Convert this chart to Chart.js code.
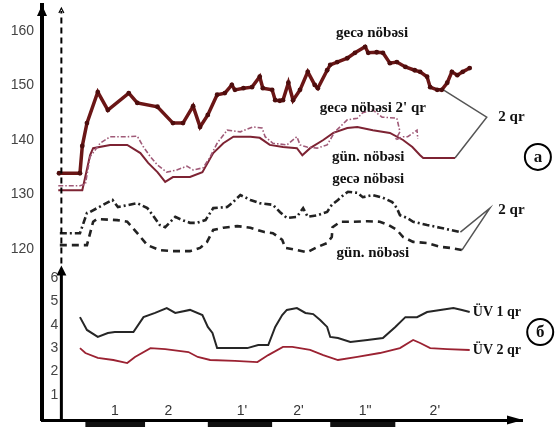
<!DOCTYPE html>
<html>
<head>
<meta charset="utf-8">
<script src="https://cdn.jsdelivr.net/npm/chart.js@4.4.1/dist/chart.umd.min.js"></script>
<style>
  html, body { margin: 0; padding: 0; background: #fff; }
  #wrap { width: 555px; height: 430px; position: relative; }
</style>
</head>
<body>
<div id="wrap"><canvas id="shiftChart"></canvas></div>
<script>
// time axis in hours from the start of the record, one shift = 8 h

// gecə nöbəsi, 2 qr (upper group, dark red with dots)
const nightTopHours = [-0.4, 2.3, 2.6, 3.2, 4.6, 5.9, 8.6, 9.7, 12.3, 14.3, 15.6, 16.9, 17.8, 18.8, 20.0, 21.0, 21.9, 22.3, 23.4, 24.5, 25.5, 25.9, 27.1, 27.5, 28.1, 28.5, 29.2, 29.8, 30.7, 31.7, 32.6, 33.0, 34.2, 34.6, 35.5, 36.8, 37.8, 39.1, 39.5, 40.6, 41.4, 42.3, 43.2, 44.3, 45.5, 46.2, 47.1, 47.5, 48.4, 49.0, 49.7, 50.3, 51.0, 51.7, 52.6];
const nightTopValues = [133.9, 133.9, 138.9, 143.1, 148.8, 145.5, 148.6, 146.8, 146.1, 143.1, 143.1, 146.2, 142.4, 144.6, 148.3, 148.6, 150.1, 149.2, 149.5, 149.7, 151.6, 149.5, 149.2, 147.3, 147.2, 147.3, 150.5, 147.3, 149.2, 152.5, 150.1, 149.5, 152.8, 153.8, 154.3, 155.0, 156.0, 157.1, 156.0, 156.1, 156.0, 154.1, 154.3, 153.4, 152.8, 152.5, 151.6, 149.7, 149.2, 149.2, 150.5, 152.5, 151.9, 152.5, 153.2];

// gün. nöbəsi, 2 qr (upper group, red solid)
const dayTopHours = [-0.5, 2.6, 3.6, 4.0, 6.2, 8.4, 10.1, 11.1, 12.3, 13.3, 14.3, 16.5, 18.1, 19.5, 20.8, 22.1, 24.3, 25.5, 26.8, 28.5, 30.3, 31.0, 32.0, 33.7, 35.0, 36.8, 38.1, 40.1, 42.3, 44.0, 45.2, 46.2, 46.6, 50.7];
const dayTopValues = [130.8, 130.8, 137.2, 138.5, 139.1, 139.1, 137.6, 135.8, 134.1, 132.3, 133.2, 133.2, 134.1, 137.6, 139.4, 140.6, 140.6, 140.4, 139.1, 138.7, 138.5, 137.2, 138.5, 140.0, 141.3, 142.2, 142.4, 141.8, 141.3, 140.0, 138.7, 137.2, 136.7, 136.7];

// gecə nöbəsi 2' qr (pink dash-dot)
const night2Hours = [-0.5, 2.3, 3.0, 3.6, 4.9, 6.2, 8.4, 9.7, 10.5, 11.4, 12.3, 13.5, 14.8, 16.1, 16.9, 18.2, 19.1, 20.0, 21.3, 23.0, 24.6, 25.8, 26.2, 27.2, 29.0, 30.3, 30.7, 31.6, 32.9, 34.2, 35.2, 36.8, 38.1, 38.8, 40.1, 41.3, 43.2, 43.6, 43.0, 44.0, 44.6, 45.8, 45.9];
const night2Values = [131.6, 131.6, 131.9, 136.9, 139.4, 140.6, 140.6, 140.7, 138.7, 136.9, 135.4, 134.1, 134.5, 135.2, 134.5, 134.9, 136.9, 139.4, 141.8, 141.5, 142.4, 142.2, 140.6, 139.4, 139.1, 140.6, 139.1, 138.7, 138.5, 139.1, 141.5, 143.7, 144.0, 145.0, 145.5, 144.2, 144.0, 141.5, 140.0, 140.6, 140.6, 141.8, 140.2];

// gecə nöbəsi, lower group (black dash-dot)
const nightLowHours = [-0.3, 2.3, 3.2, 3.6, 5.3, 6.5, 7.2, 9.7, 11.0, 11.7, 12.6, 13.3, 14.6, 15.5, 16.5, 17.4, 18.5, 19.5, 21.3, 21.9, 23.0, 24.3, 25.5, 27.2, 28.1, 29.0, 30.3, 31.1, 31.7, 33.0, 34.2, 34.8, 35.6, 36.3, 36.9, 38.1, 38.8, 40.1, 41.4, 42.6, 43.2, 43.6, 44.5, 45.3, 47.1, 48.8, 50.1, 51.4];
const nightLowValues = [122.9, 122.9, 126.6, 126.8, 128.1, 129.0, 127.7, 128.4, 127.5, 126.2, 124.4, 124.0, 125.9, 125.3, 124.8, 124.8, 125.3, 127.5, 127.7, 128.4, 129.9, 129.0, 128.4, 128.1, 126.8, 125.7, 125.9, 127.5, 125.9, 126.2, 126.8, 128.1, 129.0, 129.9, 130.5, 130.3, 129.5, 129.9, 129.4, 128.6, 127.5, 126.2, 125.7, 125.0, 124.4, 123.9, 123.5, 123.1];

// gün. nöbəsi, lower group (black dashed)
const dayLowHours = [-0.3, 3.2, 4.0, 4.5, 7.1, 8.4, 9.7, 11.0, 12.6, 14.3, 16.5, 17.8, 18.7, 19.5, 20.8, 22.6, 24.3, 26.1, 27.2, 28.4, 28.8, 30.3, 31.6, 33.0, 34.2, 34.8, 34.9, 35.9, 37.5, 39.4, 41.0, 42.1, 43.2, 44.0, 45.3, 47.1, 48.8, 50.1, 51.6];
const dayLowValues = [120.7, 120.7, 125.0, 125.5, 125.3, 125.0, 122.9, 120.7, 119.8, 119.6, 119.6, 120.2, 121.3, 123.5, 123.9, 124.2, 123.9, 123.1, 122.9, 121.7, 120.2, 119.8, 119.4, 120.4, 121.1, 122.2, 124.0, 125.0, 125.0, 125.1, 125.0, 124.4, 123.5, 122.2, 121.3, 121.1, 120.4, 120.2, 119.8];

// ÜV 1 qr / ÜV 2 qr (lower panel)
const uv1Hours = [2.3, 3.2, 4.6, 5.9, 6.8, 9.2, 10.5, 12.0, 13.5, 14.6, 16.5, 18.1, 18.8, 19.4, 20.0, 21.9, 23.9, 25.3, 26.6, 27.5, 28.4, 29.0, 30.3, 31.4, 32.4, 33.3, 34.2, 34.6, 35.6, 37.2, 39.4, 41.4, 43.0, 44.3, 45.8, 47.1, 48.8, 50.5, 51.6, 52.6];
const uv1Values = [4.33, 3.78, 3.48, 3.65, 3.69, 3.69, 4.33, 4.51, 4.72, 4.51, 4.64, 4.42, 3.91, 3.65, 3.00, 3.00, 3.00, 3.13, 3.13, 3.91, 4.42, 4.64, 4.72, 4.51, 4.46, 4.21, 3.91, 3.48, 3.43, 3.26, 3.35, 3.43, 3.91, 4.33, 4.33, 4.55, 4.64, 4.72, 4.64, 4.55];
const uv2Hours = [2.3, 3.0, 4.6, 6.6, 8.4, 9.4, 11.4, 13.3, 16.3, 17.5, 19.1, 22.3, 25.2, 26.6, 28.5, 29.7, 32.0, 33.7, 35.6, 38.1, 41.0, 43.6, 45.3, 46.2, 47.5, 49.7, 52.6];
const uv2Values = [3.00, 2.79, 2.58, 2.49, 2.36, 2.62, 3.00, 2.96, 2.83, 2.62, 2.49, 2.45, 2.40, 2.70, 3.05, 3.05, 2.92, 2.70, 2.49, 2.62, 2.79, 3.00, 3.35, 3.22, 3.00, 2.96, 2.92];

// "2 qr" brackets joining the line ends
const bracketTopHours = [49.2, 54.8, 50.7];
const bracketTopValues = [149.2, 144.2, 136.7];
const bracketLowHours = [51.4, 55.2, 51.6];
const bracketLowValues = [123.1, 127.5, 119.8];

// shifts along the time axis
const shiftLabels = ['1', '2', "1'", "2'", '1"', "2'"];
const shiftLabelHours = [6.8, 13.7, 23.2, 30.5, 39.1, 48.1];
const darkShiftStart = [3.0, 18.8, 34.6];
const darkShiftEnd = [10.7, 27.1, 43.0];

const topTicks = [120, 130, 140, 150, 160];
const bottomTicks = [1, 2, 3, 4, 5, 6];

// captions, anchored in data units
const notes = [
  { text: 'gecə nöbəsi', x: 40.0, y: 159.6, axis: 'yTop', align: 'center' },
  { text: "gecə nöbəsi 2' qr", x: 40.1, y: 145.9, axis: 'yTop', align: 'center' },
  { text: 'gün. nöbəsi', x: 39.5, y: 136.9, axis: 'yTop', align: 'center' },
  { text: 'gecə nöbəsi', x: 39.5, y: 132.8, axis: 'yTop', align: 'center' },
  { text: 'gün. nöbəsi', x: 40.1, y: 119.3, axis: 'yTop', align: 'center' },
  { text: '2 qr', x: 56.3, y: 144.2, axis: 'yTop', align: 'left' },
  { text: '2 qr', x: 56.3, y: 127.2, axis: 'yTop', align: 'left' },
  { text: 'ÜV 1 qr', x: 53.0, y: 4.55, axis: 'yBot', align: 'left' },
  { text: 'ÜV 2 qr', x: 53.0, y: 2.92, axis: 'yBot', align: 'left' }
];
const panelMarks = [
  { text: 'a', x: 61.4, y: 136.9, axis: 'yTop' },
  { text: 'б', x: 61.7, y: 3.69, axis: 'yBot' }
];

const tickFont = '"Liberation Sans", Arial, sans-serif';

function zip(xs, ys) {
  return xs.map((x, i) => ({ x: x, y: ys[i] }));
}

// keep the axes from reserving room for half-labels at their ends
function noEndPadding(s) {
  s.paddingTop = 0;
  s.paddingBottom = 0;
  s.paddingLeft = 0;
  s.paddingRight = 0;
}

const axesAndNotes = {
  id: 'axesAndNotes',
  afterDraw(chart) {
    const ctx = chart.ctx;
    const area = chart.chartArea;
    const xs = chart.scales.x;
    const yb = chart.scales.yBot;
    ctx.save();
    ctx.fillStyle = '#000';
    ctx.strokeStyle = '#000';

    // arrow on the main vertical axis
    ctx.beginPath();
    ctx.moveTo(area.left, area.top);
    ctx.lineTo(area.left - 5, area.top + 11);
    ctx.lineTo(area.left + 5, area.top + 11);
    ctx.closePath();
    ctx.fill();

    // arrow on the time axis
    ctx.beginPath();
    ctx.moveTo(area.right + 1, area.bottom);
    ctx.lineTo(area.right - 15, area.bottom - 4.5);
    ctx.lineTo(area.right - 15, area.bottom + 4.5);
    ctx.closePath();
    ctx.fill();

    // lower panel axis: solid arrow, dashed continuation above
    const ax = xs.getPixelForValue(-0.1);
    const tip = yb.getPixelForValue(6.55);
    ctx.lineWidth = 3;
    ctx.beginPath();
    ctx.moveTo(ax, area.bottom);
    ctx.lineTo(ax, tip + 8);
    ctx.stroke();
    ctx.beginPath();
    ctx.moveTo(ax, tip);
    ctx.lineTo(ax - 5, tip + 10);
    ctx.lineTo(ax + 5, tip + 10);
    ctx.closePath();
    ctx.fill();

    ctx.lineWidth = 2;
    ctx.setLineDash([6, 4]);
    ctx.beginPath();
    ctx.moveTo(ax, tip - 2);
    ctx.lineTo(ax, area.top + 6);
    ctx.stroke();
    ctx.setLineDash([]);
    ctx.lineWidth = 1.2;
    ctx.beginPath();
    ctx.moveTo(ax - 2.5, area.top + 8);
    ctx.lineTo(ax, area.top + 3);
    ctx.lineTo(ax + 2.5, area.top + 8);
    ctx.stroke();

    // dark shifts under the time axis
    ctx.fillStyle = '#111';
    darkShiftStart.forEach((s, i) => {
      const x0 = xs.getPixelForValue(s);
      const x1 = xs.getPixelForValue(darkShiftEnd[i]);
      ctx.fillRect(x0, area.bottom + 2, x1 - x0, 5);
    });

    // shift names sit just above the time axis
    ctx.fillStyle = '#333';
    ctx.font = '14px ' + tickFont;
    ctx.textAlign = 'center';
    ctx.textBaseline = 'middle';
    xs.ticks.forEach(t => {
      ctx.fillText(t.label, xs.getPixelForValue(t.value), area.bottom - 9);
    });

    // captions
    ctx.fillStyle = '#111';
    notes.forEach(n => {
      const size = n.axis === 'yBot' ? 14 : 15;
      ctx.font = 'bold ' + size + 'px "Liberation Serif", "DejaVu Serif", serif';
      ctx.textAlign = n.align;
      ctx.fillText(n.text, xs.getPixelForValue(n.x), chart.scales[n.axis].getPixelForValue(n.y));
    });

    // circled panel letters
    panelMarks.forEach(m => {
      const cx = xs.getPixelForValue(m.x);
      const cy = chart.scales[m.axis].getPixelForValue(m.y);
      ctx.lineWidth = 2;
      ctx.strokeStyle = '#000';
      ctx.beginPath();
      ctx.arc(cx, cy, 13, 0, Math.PI * 2);
      ctx.stroke();
      ctx.font = 'bold 17px "Liberation Serif", "DejaVu Serif", serif';
      ctx.textAlign = 'center';
      ctx.fillText(m.text, cx, cy + 1);
    });
    ctx.restore();
  }
};

new Chart(document.getElementById('shiftChart'), {
  type: 'line',
  data: {
    datasets: [
      {
        label: 'gecə nöbəsi',
        data: zip(nightTopHours, nightTopValues),
        yAxisID: 'yTop',
        borderColor: '#6b1616',
        borderWidth: 3.5,
        pointRadius: 2.4,
        pointBackgroundColor: '#4e0d0d',
        pointBorderWidth: 0
      },
      {
        label: "gecə nöbəsi 2' qr",
        data: zip(night2Hours, night2Values),
        yAxisID: 'yTop',
        borderColor: '#a05a78',
        borderWidth: 1.6,
        borderDash: [5, 2, 1.5, 2],
        pointRadius: 0
      },
      {
        label: 'gün. nöbəsi',
        data: zip(dayTopHours, dayTopValues),
        yAxisID: 'yTop',
        borderColor: '#7d2333',
        borderWidth: 2,
        pointRadius: 0
      },
      {
        label: 'gecə nöbəsi (alt)',
        data: zip(nightLowHours, nightLowValues),
        yAxisID: 'yTop',
        borderColor: '#222',
        borderWidth: 2.6,
        borderDash: [7, 3, 2, 3],
        pointRadius: 0
      },
      {
        label: 'gün. nöbəsi (alt)',
        data: zip(dayLowHours, dayLowValues),
        yAxisID: 'yTop',
        borderColor: '#222',
        borderWidth: 2.6,
        borderDash: [7, 5],
        pointRadius: 0
      },
      {
        label: '2 qr',
        data: zip(bracketTopHours, bracketTopValues),
        yAxisID: 'yTop',
        borderColor: '#555',
        borderWidth: 1.5,
        pointRadius: 0
      },
      {
        label: '2 qr (alt)',
        data: zip(bracketLowHours, bracketLowValues),
        yAxisID: 'yTop',
        borderColor: '#555',
        borderWidth: 1.5,
        pointRadius: 0
      },
      {
        label: 'ÜV 1 qr',
        data: zip(uv1Hours, uv1Values),
        yAxisID: 'yBot',
        borderColor: '#262626',
        borderWidth: 2,
        pointRadius: 0
      },
      {
        label: 'ÜV 2 qr',
        data: zip(uv2Hours, uv2Values),
        yAxisID: 'yBot',
        borderColor: '#9b2232',
        borderWidth: 1.8,
        pointRadius: 0
      }
    ]
  },
  options: {
    responsive: true,
    maintainAspectRatio: false,
    animation: false,
    devicePixelRatio: 1,
    layout: { padding: { top: 5, right: 33, left: 0, bottom: 0 } },
    elements: { line: { tension: 0 } },
    plugins: {
      legend: { display: false },
      tooltip: { enabled: false }
    },
    scales: {
      x: {
        type: 'linear',
        min: -2.6,
        max: 59.35,
        grid: { display: false, drawTicks: false },
        border: { color: '#000', width: 3 },
        afterBuildTicks: s => { s.ticks = shiftLabelHours.map(v => ({ value: v })); },
        afterFit: s => { s.height = 10; noEndPadding(s); },
        ticks: {
          display: false,
          autoSkip: false,
          callback: (v, i) => shiftLabels[i]
        }
      },
      yTop: {
        type: 'linear',
        position: 'left',
        min: 88.62,
        max: 164.77,
        grid: { display: false, drawTicks: false },
        border: { color: '#000', width: 4 },
        afterBuildTicks: s => { s.ticks = topTicks.map(v => ({ value: v })); },
        afterFit: s => { s.width = 42; noEndPadding(s); },
        ticks: {
          padding: 8,
          color: '#444',
          font: { family: tickFont, size: 14 }
        }
      },
      yBot: {
        type: 'linear',
        position: { x: -0.5 },
        min: -0.086,
        max: 17.73,
        grid: { display: false, drawTicks: false },
        border: { display: false },
        afterBuildTicks: s => { s.ticks = bottomTicks.map(v => ({ value: v })); },
        afterFit: s => { noEndPadding(s); },
        ticks: {
          padding: 0,
          color: '#444',
          font: { family: tickFont, size: 14 }
        }
      }
    }
  },
  plugins: [axesAndNotes]
});
</script>
</body>
</html>
